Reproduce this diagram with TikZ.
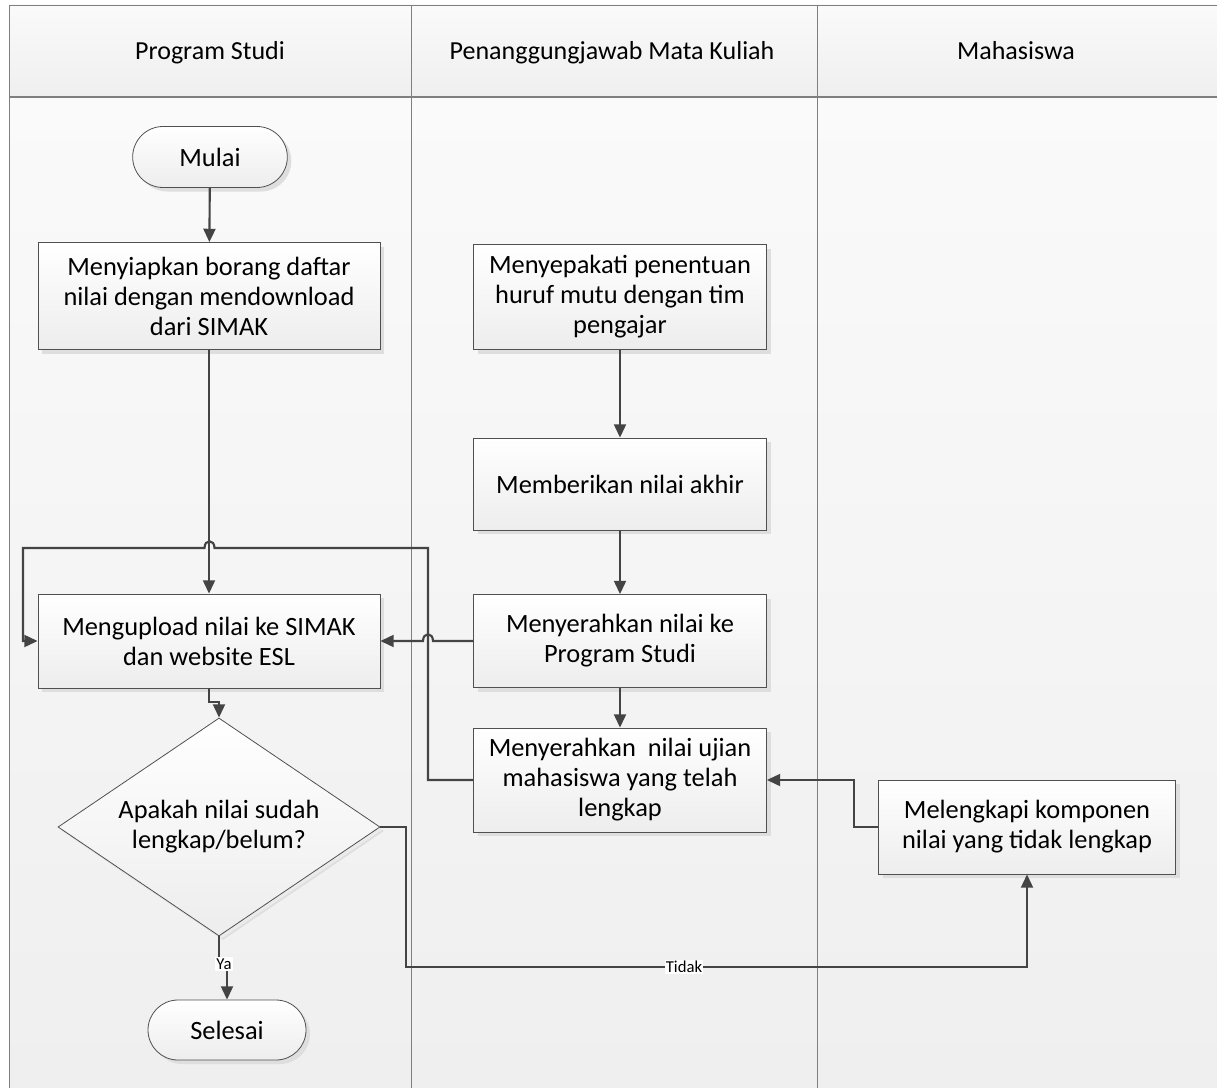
\documentclass[tikz,border=0pt]{standalone}
\usepackage{fontspec}
\setmainfont{Carlito}
\usetikzlibrary{arrows.meta,shapes.geometric,shapes.misc,shadows}
\definecolor{lanebd}{HTML}{7F7F7F}
\definecolor{boxbd}{HTML}{505050}
\definecolor{conncol}{HTML}{444444}
\definecolor{bgtop}{HTML}{FAFAFA}
\definecolor{bgbot}{HTML}{EFEFEF}
\definecolor{boxbot}{HTML}{EDEDED}
\begin{document}
\begin{tikzpicture}[x=0.75pt,y=-0.75pt,
  txt/.style={font=\fontsize{19.8}{22.5}\selectfont, align=center, text=black},
  boxbase/.style={txt, draw=boxbd, line width=0.6pt, top color=white, bottom color=boxbot,
    drop shadow={shadow xshift=3pt, shadow yshift=-3pt, fill=black!13, opacity=1}, inner sep=0pt},
  proc/.style={boxbase, rectangle},
  term/.style={boxbase, rounded rectangle},
  decis/.style={boxbase, diamond, drop shadow={shadow xshift=2pt, shadow yshift=-2pt, fill=black!8, opacity=1}},
  conn/.style={draw=conncol, line width=1.6pt, -{Triangle[length=10pt,width=9pt]}},
  lbl/.style={font=\fontsize{12.5}{14}\selectfont, fill=white, inner sep=1pt, text=black},
  hdr/.style={font=\fontsize{19.5}{22.5}\selectfont, text=black, anchor=base}]
\useasboundingbox (0,0) rectangle (1217,1088);
% background lanes
\shade[top color=bgtop, bottom color=bgbot] (9,97) rectangle (1217,1088);
\shade[top color=bgtop, bottom color=bgbot] (9,5) rectangle (1217,97);
\draw[lanebd, line width=0.7pt] (1217,5) -- (9,5) -- (9,1088);
\draw[lanebd, line width=0.7pt] (411,5) -- (411,1088);
\draw[lanebd, line width=0.7pt] (817,5) -- (817,1088);
\draw[lanebd, line width=1.3pt] (9,97) -- (1217,97);
\node[hdr] (h1) at (210,60) {Program Studi};
\node[hdr] (h2) at (612,60) {Penanggungjawab Mata Kuliah};
\node[hdr] (h3) at (1016,60) {Mahasiswa};
% nodes
\node[term, minimum width=116pt, minimum height=45.75pt] (mulai) at (210,157) {Mulai};
\node[proc, minimum width=256.5pt, minimum height=80.25pt] (siap) at (209,296) {Menyiapkan borang daftar\\nilai dengan mendownload\\dari SIMAK};
\node[proc, minimum width=256.5pt, minimum height=70.5pt] (upload) at (209,641) {Mengupload nilai ke SIMAK\\dan website ESL};
\node[decis, minimum width=241.5pt, minimum height=163.5pt, aspect=1.48] (dec) at (219,827) {Apakah nilai sudah\\lengkap/belum?};
\node[term, minimum width=118.5pt, minimum height=45pt] (sel) at (227,1030) {Selesai};
\node[proc, minimum width=219.75pt, minimum height=78.75pt] (sepakat) at (620,297) {Menyepakati penentuan\\huruf mutu dengan tim\\pengajar};
\node[proc, minimum width=219.75pt, minimum height=69pt] (beri) at (620,484) {Memberikan nilai akhir};
\node[proc, minimum width=219.75pt, minimum height=69.75pt] (serah) at (620,641) {Menyerahkan nilai ke\\Program Studi};
\node[proc, minimum width=219.75pt, minimum height=78pt] (ujian) at (620,780) {Menyerahkan\ \ nilai ujian\\mahasiswa yang telah\\lengkap};
\node[proc, minimum width=222.75pt, minimum height=70.5pt] (leng) at (1027,827) {Melengkapi komponen\\nilai yang tidak lengkap};
% connectors
\draw[conn] (mulai) -- (siap);
\draw[conn] (siap.south) -- (upload.north);
\draw[conn] (sepakat) -- (beri);
\draw[conn] (beri) -- (serah);
\draw[conn] (serah) -- (ujian);
\draw[conn] (ujian.west) -| (428,560) -- (428,548) -- (214.5,548)
  .. controls (214.5,539) and (204.5,539) .. (204.5,548) -- (23,548) |- (upload.west);
\draw[conn] (serah.west) -- (433,641) .. controls (433,632) and (423,632) .. (423,641) -- (upload.east);
\draw[conn] (upload.south) -- (209,702) -- (219,702) -- (dec.north);
\draw[conn] (leng.west) -- ++(-24,0) |- (ujian.east);
\draw[conn] (dec.east) -- (406,827) -- (406,967) -| (leng.south);
\node[lbl] (tidak) at (684,967) {Tidak};
\draw[conn] (dec.south) -- (219,963) -- (227,963) -- (sel.north);
\node[lbl] (ya) at (224,964) {Ya};
\end{tikzpicture}
\end{document}
